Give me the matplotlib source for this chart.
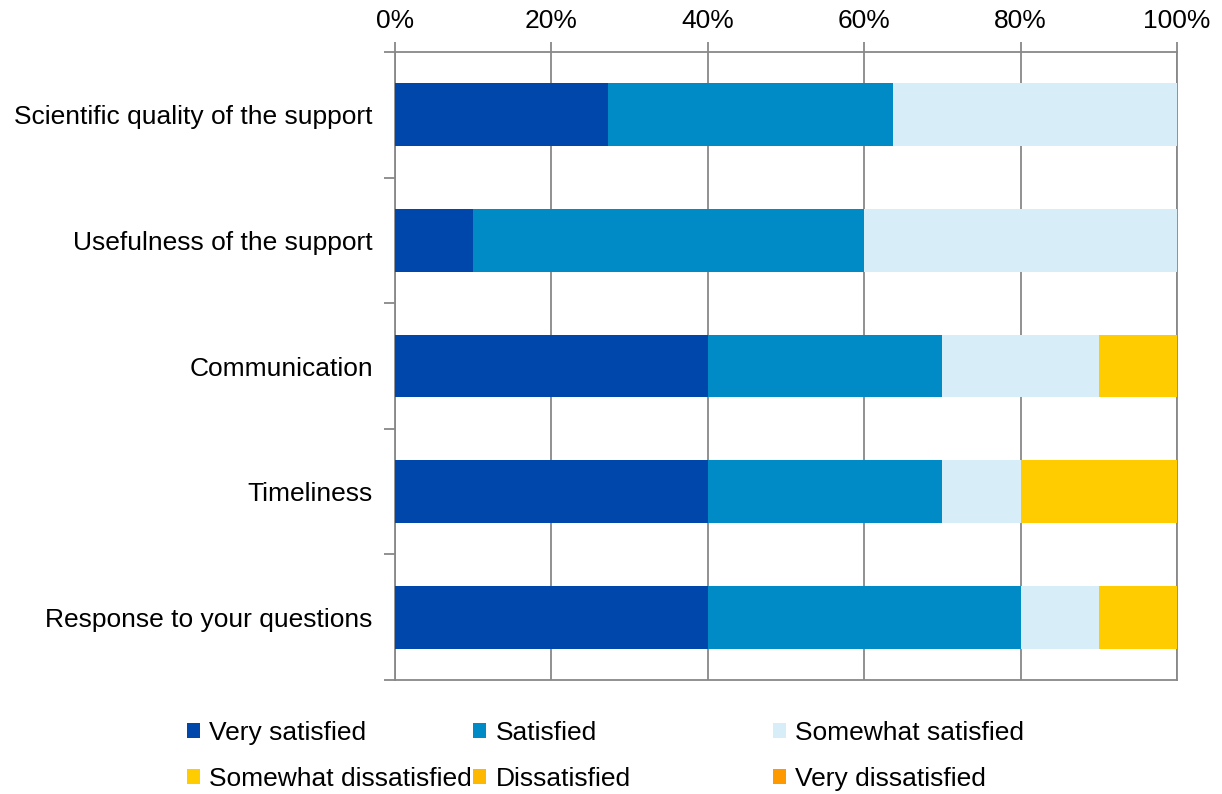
import numpy as np
import matplotlib
matplotlib.use("Agg")
import matplotlib.pyplot as plt
from matplotlib.patches import Patch

plt.rcParams["font.family"] = ["Liberation Sans", "DejaVu Sans"]

categories = ["Scientific quality of the support", "Usefulness of the support",
              "Communication", "Timeliness", "Response to your questions"]
series = ["Very satisfied", "Satisfied", "Somewhat satisfied",
          "Somewhat dissatisfied", "Dissatisfied", "Very dissatisfied"]
very_satisfied = [27.3, 10, 40, 40, 40]
satisfied = [36.4, 50, 30, 30, 40]
somewhat_satisfied = [36.3, 40, 20, 10, 10]
somewhat_dissatisfied = [0, 0, 10, 20, 10]
dissatisfied = [0, 0, 0, 0, 0]
very_dissatisfied = [0, 0, 0, 0, 0]
colors = ["#0047AB", "#008AC6", "#D7EEF9", "#FFCC00", "#FFB800", "#FF9900"]

values = [very_satisfied, satisfied, somewhat_satisfied,
          somewhat_dissatisfied, dissatisfied, very_dissatisfied]

FS = 19
fig = plt.figure(figsize=(12.22, 7.94), dpi=100)
ax = fig.add_axes([395 / 1222, 1 - 680 / 794, 782 / 1222, 628 / 794])

GRID = "#888888"
y = np.arange(len(categories))
left = np.zeros(len(categories))
for name, vals, c in zip(series, values, colors):
    vals = np.array(vals, dtype=float)
    ax.barh(y, vals, left=left, height=0.5, color=c, label=name, zorder=3,
            edgecolor="none")
    left += vals

ax.set_xlim(0, 100)
ax.set_ylim(len(categories) - 0.5, -0.5)
ax.set_xticks(np.arange(0, 101, 20))
ax.set_xticklabels([f"{v}%" for v in range(0, 101, 20)])
ax.xaxis.tick_top()
ax.tick_params(axis="x", which="major", length=7, width=1.3, color=GRID,
               labelsize=FS, pad=7)
ax.grid(axis="x", color=GRID, lw=1.3, zorder=1)

ax.set_yticks(y)
ax.set_yticklabels(categories)
ax.set_yticks(np.arange(-0.5, len(categories)), minor=True)
ax.tick_params(axis="y", which="major", length=0, labelsize=FS, pad=16)
ax.tick_params(axis="y", which="minor", length=8, width=1.3, color=GRID)

for s in ax.spines.values():
    s.set_color(GRID)
    s.set_linewidth(1.3)

# legend: three hand-placed columns, like the original's uneven spacing
handles = [Patch(facecolor=c, edgecolor="none") for c in colors]
xpos = [187 / 1222, 473 / 1222, 773 / 1222]
for i, xp in enumerate(xpos):
    hs = [handles[i], handles[i + 3]]
    ls = [series[i], series[i + 3]]
    fig.legend(hs, ls, loc="upper left", bbox_to_anchor=(xp, 1 - 721 / 794),
               frameon=False, fontsize=FS, handlelength=0.5, handleheight=0.5,
               handletextpad=0.35, labelspacing=0.83, borderaxespad=0,
               borderpad=0)

fig.savefig("out.png", dpi=100)
